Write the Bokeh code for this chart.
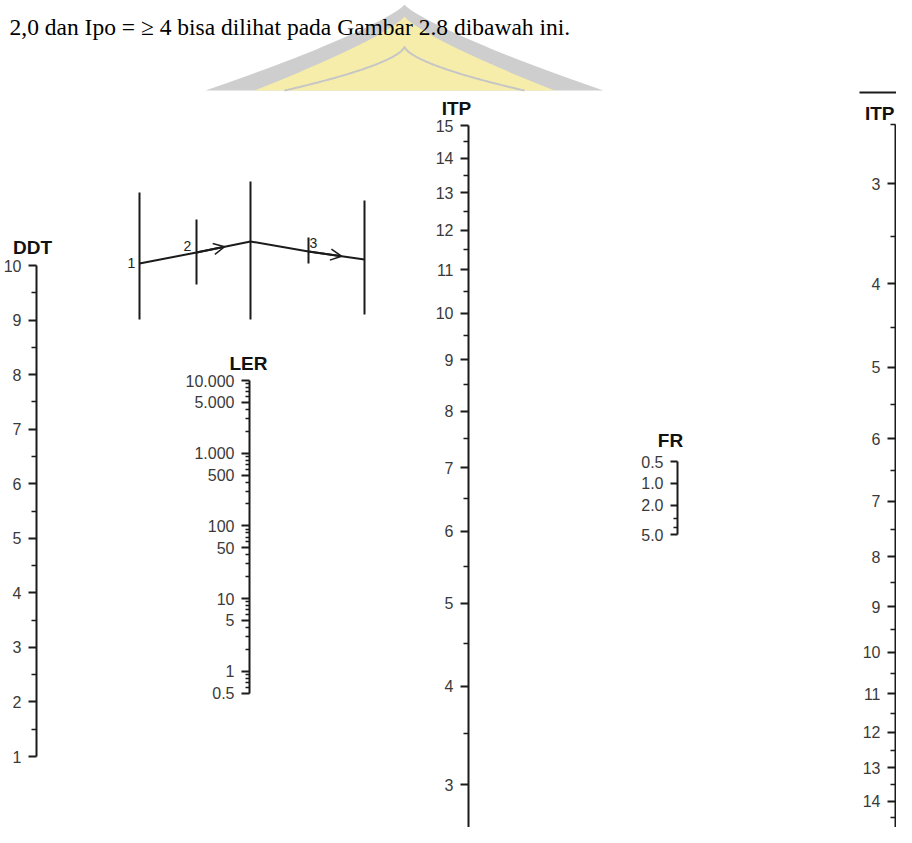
import numpy as np
from bokeh.plotting import figure
from bokeh.models import Range1d, LinearAxis, LogAxis, LogScale, FixedTicker, Arrow, OpenHead
from bokeh.core.properties import value
from bokeh.embed import file_html
from bokeh.resources import INLINE

# ------------------------------------------------------------------ data
intro_text = "2,0 dan Ipo = \u2265 4 bisa dilihat pada Gambar 2.8 dibawah ini."

ddt_name = "DDT"
ddt_ticks = [1, 2, 3, 4, 5, 6, 7, 8, 9, 10]
ddt_labels = ["1", "2", "3", "4", "5", "6", "7", "8", "9", "10"]
ddt_minor = [1.5, 2.5, 3.5, 4.5, 5.5, 6.5, 7.5, 8.5, 9.5]

ler_name = "LER"
ler_ticks = [0.5, 1, 5, 10, 50, 100, 500, 1000, 5000, 10000]
ler_labels = ["0.5", "1", "5", "10", "50", "100", "500", "1.000", "5.000", "10.000"]
ler_minor = [0.6, 0.7, 0.8, 0.9, 2, 3, 4, 6, 7, 8, 9,
             20, 30, 40, 60, 70, 80, 90, 200, 300, 400, 600, 700, 800, 900,
             2000, 3000, 4000, 6000, 7000, 8000, 9000]

itp_name = "ITP"
itp_ticks = [3, 4, 5, 6, 7, 8, 9, 10, 11, 12, 13, 14, 15]
itp_labels = ["3", "4", "5", "6", "7", "8", "9", "10", "11", "12", "13", "14", "15"]
itp_minor = [2.5, 3.5, 4.5, 5.5, 6.5, 7.5, 8.5, 9.5, 10.5, 11.5, 12.5, 13.5, 14.5]

fr_name = "FR"
fr_ticks = [0.5, 1.0, 2.0, 5.0]
fr_labels = ["0.5", "1.0", "2.0", "5.0"]
fr_minor = [3.0, 4.0]

itpb_name = "ITP"
itpb_ticks = [3, 4, 5, 6, 7, 8, 9, 10, 11, 12, 13, 14, 15]
itpb_labels = ["3", "4", "5", "6", "7", "8", "9", "10", "11", "12", "13", "14", "15"]
itpb_minor = [2.5, 3.5, 4.5, 5.5, 6.5, 7.5, 8.5, 9.5, 10.5, 11.5, 12.5, 13.5, 14.5]

# key sketch (small schematic of reading the nomogram)
key_x = [139, 196, 250, 308, 364]
key_top = [192, 219, 181, 237, 200]
key_bottom = [319, 284, 319, 263, 314]
key_path = [263, 252, 241, 251, 259]
key_marks = ["1", "2", "3"]

# ------------------------------------------------------------------ layout
W, H = 896, 827
INK = "#1b1b1b"
SANS = "Liberation Sans"

p = figure(width=W, height=H, x_range=Range1d(0, W), y_range=Range1d(H, 0),
           x_axis_type=None, y_axis_type=None, toolbar_location=None,
           output_backend="svg", min_border=0, outline_line_color=None,
           background_fill_color="white", border_fill_color="white")


def frame_range(f, v_top, y_top, v_bot, y_bot):
    k = (f(v_bot) - f(v_top)) / (y_bot - y_top)
    return float(f(v_top) + k * (H - y_top)), float(f(v_top) - k * y_top)


ident = lambda v: v
itp_f = lambda v: np.log10(v + 2.0)
itpb_f = lambda v: np.log10(v + 1.5)

s, e = frame_range(ident, 10, 265, 1, 756)
p.extra_y_ranges["ddt"] = Range1d(s, e)
s, e = frame_range(np.log10, 10000, 380, 0.5, 692.6)
p.extra_y_ranges["ler"] = Range1d(10 ** s, 10 ** e)
p.extra_y_scales["ler"] = LogScale()
s, e = frame_range(itp_f, 15, 125, 3, 784)
p.extra_y_ranges["itp"] = Range1d(s, e)
s, e = frame_range(np.log10, 0.5, 461, 5, 534)
p.extra_y_ranges["fr"] = Range1d(10 ** s, 10 ** e)
p.extra_y_scales["fr"] = LogScale()
s, e = frame_range(itpb_f, 3, 183, 15, 832)
p.extra_y_ranges["itpb"] = Range1d(s, e)

# ------------------------------------------------------------------ watermark
def dome(cx, top, base, half, pw=1.25, n=50):
    t = np.linspace(0, 1, n)
    y = base - (base - top) * t
    w = half * (1 - t) ** pw
    return (np.concatenate([cx - w, (cx + w)[::-1]]).tolist(),
            np.concatenate([y, y[::-1]]).tolist())

xs, ys = dome(404, 4, 90, 199)
p.patch(xs, ys, fill_color="#c6c6c6", fill_alpha=0.85, line_color=None)
xs, ys = dome(404, 16, 90, 150)
p.patch(xs, ys, fill_color="#fbf1a6", fill_alpha=0.9, line_color=None)
xs, ys = dome(404, 46, 90, 120, pw=1.6)
p.line(xs[:50], ys[:50], line_color="#c6c6c6", line_width=2)
p.line(xs[50:], ys[50:], line_color="#c6c6c6", line_width=2)

p.text(x=[9], y=[26], text=[intro_text], text_font=value("Liberation Serif"),
       text_font_size="23.5px", text_color="black", text_baseline="alphabetic")

# ------------------------------------------------------------------ scales
def add_scale(kind, rname, x, ticks, minor, labels, bounds, tick_out=8, minor_out=5):
    cls = LogAxis if kind == "log" else LinearAxis
    ax = cls(y_range_name=rname,
             ticker=FixedTicker(ticks=[float(t) for t in ticks],
                                minor_ticks=[float(t) for t in minor]),
             bounds=bounds, fixed_location=x,
             axis_line_width=2, axis_line_color=INK,
             major_tick_out=tick_out, major_tick_in=0,
             minor_tick_out=minor_out, minor_tick_in=0,
             major_tick_line_width=2, major_tick_line_color=INK,
             minor_tick_line_width=1.5, minor_tick_line_color=INK,
             major_label_text_font=SANS, major_label_text_font_size="16px",
             major_label_text_color="#3a3a3a", major_label_standoff=7)
    ax.major_label_overrides = {float(t): l for t, l in zip(ticks, labels)}
    p.add_layout(ax, "left")


def add_title(rname, x, yv, name, dy, align="center"):
    p.text(x=[x], y=[yv], text=[name], y_range_name=rname, y_offset=dy,
           text_font=value(SANS), text_font_style="bold", text_font_size="19px",
           text_color="#111111", text_align=align, text_baseline="alphabetic")


add_scale("lin", "ddt", 36, ddt_ticks, ddt_minor, ddt_labels, (1, 10))
add_title("ddt", 32, 10, ddt_name, -18)

add_scale("log", "ler", 249, ler_ticks, ler_minor, ler_labels, (0.5, 10000), 8, 4)
add_title("ler", 248, 10000, ler_name, -17)

itp_t = [itp_f(v) for v in itp_ticks]
itp_m = [itp_f(v) for v in itp_minor]
add_scale("lin", "itp", 468, itp_t, itp_m, itp_labels,
          (float(itp_f(2.3)), float(itp_f(15))), 8, 5)
add_title("itp", 456, float(itp_f(15)), itp_name, -17)

add_scale("log", "fr", 677, fr_ticks, fr_minor, fr_labels, (0.5, 5.0), 7, 4)
add_title("fr", 670, 0.5, fr_name, -21)

itpb_t = [itpb_f(v) for v in itpb_ticks]
itpb_m = [itpb_f(v) for v in itpb_minor]
add_scale("lin", "itpb", 895, itpb_t, itpb_m, itpb_labels,
          (float(itpb_f(2.5)), float(itpb_f(15.5))), 8, 5)
add_title("itpb", 894, float(itpb_f(2.5)), itpb_name, -11, align="right")
p.segment(x0=[859], y0=[92], x1=[W], y1=[92], line_color=INK, line_width=2)

# ------------------------------------------------------------------ key sketch
p.segment(x0=key_x, y0=key_top, x1=key_x, y1=key_bottom, line_color=INK, line_width=2)
p.line(key_x, key_path, line_color=INK, line_width=2)
for i0, frac in [(1, 0.52), (3, 0.59)]:
    xa, ya = key_x[i0], key_path[i0]
    xb, yb = key_x[i0 + 1], key_path[i0 + 1]
    p.add_layout(Arrow(end=OpenHead(size=11, line_width=1.5, line_color=INK),
                       x_start=xa, y_start=ya,
                       x_end=xa + frac * (xb - xa), y_end=ya + frac * (yb - ya),
                       line_color=INK, line_width=2))
p.text(x=[key_x[0] - 8, key_x[1] - 9, key_x[3] + 5],
       y=[key_path[0] - 1, key_path[1] - 7, key_path[3] - 9],
       text=key_marks, text_font=value(SANS), text_font_size="14px",
       text_color="#222222", text_align="center", text_baseline="middle")

open("out.html", "w").write(file_html(p, INLINE))
